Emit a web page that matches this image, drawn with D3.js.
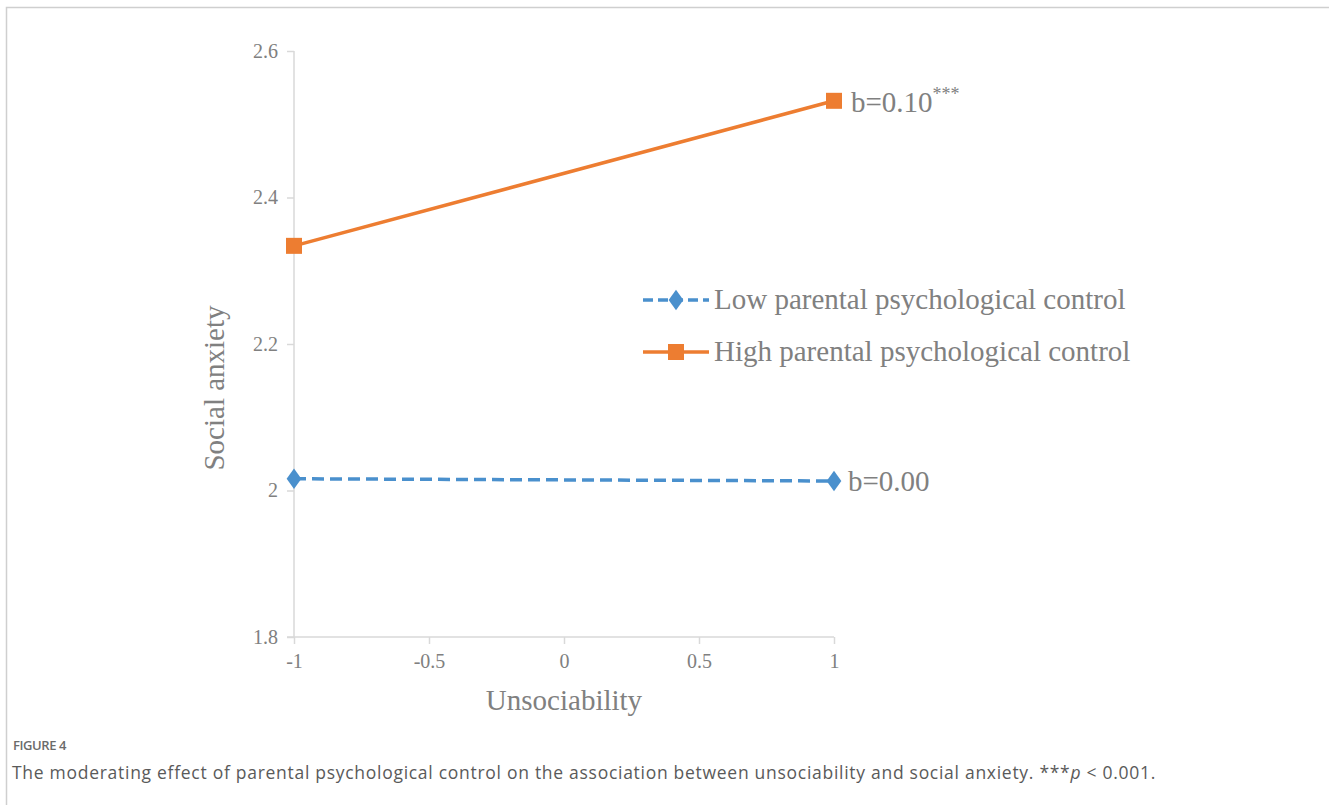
<!DOCTYPE html>
<html><head><meta charset="utf-8">
<script src="https://cdn.jsdelivr.net/npm/d3@7"></script>
<style>
html,body{margin:0;padding:0;background:#fff;}
svg{display:block;}
</style></head>
<body>
<svg id="chart" width="1329" height="805"></svg>
<script>
const xValues = [-1, 1];
const lowValues = [2.016, 2.013];
const highValues = [2.334, 2.532];
const seriesNames = ["Low parental psychological control", "High parental psychological control"];
const slopeLabels = ["b=0.00", "b=0.10"];
const xTicks = [-1, -0.5, 0, 0.5, 1];
const yTicks = [1.8, 2.0, 2.2, 2.4, 2.6];
const xTitle = "Unsociability";
const yTitle = "Social anxiety";
const figLabel = "FIGURE 4";
const caption = "The moderating effect of parental psychological control on the association between unsociability and social anxiety. ***";

const svg = d3.select("#chart");
const serif = "'Liberation Serif','Times New Roman',serif";
const textGray = "#808080";
const axisGray = "#d9d9d9";
const blue = "#4a90cd";
const orange = "#ed7d31";
const big = 29;

// frame
svg.append("path").attr("d","M6.5,805 L6.5,7.5 L1329,7.5").attr("fill","none").attr("stroke","#cfcfcf").attr("stroke-width",1.5);

const x = d3.scaleLinear().domain([-1,1]).range([294,834]);
const y = d3.scaleLinear().domain([1.8,2.6]).range([637,51]);

const yAxis = svg.append("g").attr("transform","translate(294,0)")
  .call(d3.axisLeft(y).tickValues(yTicks).tickSize(7).tickPadding(9).tickFormat(d => String(+d.toFixed(1))));
const xAxis = svg.append("g").attr("transform","translate(0,637)")
  .call(d3.axisBottom(x).tickValues(xTicks).tickSize(7).tickPadding(10).tickFormat(d => String(d)));
[yAxis,xAxis].forEach(g=>{
  g.select(".domain").attr("stroke",axisGray).attr("stroke-width",1.5);
  g.selectAll(".tick line").attr("stroke",axisGray).attr("stroke-width",1.5);
  g.selectAll(".tick text").attr("fill",textGray).attr("font-family",serif).attr("font-size",20);
});
yAxis.select(".domain").attr("d","M0,51V637");
xAxis.select(".domain").attr("d","M287,0H834");

// titles
svg.append("text").attr("x",(294+834)/2).attr("y",710).attr("text-anchor","middle")
  .attr("font-family",serif).attr("font-size",big).attr("fill",textGray).text(xTitle);
svg.append("text").attr("transform","translate(224,388) rotate(-90)").attr("text-anchor","middle")
  .attr("font-family",serif).attr("font-size",big).attr("fill",textGray).text(yTitle);

const line = d3.line().x((d,i)=>x(xValues[i])).y(d=>y(d));

// low series
svg.append("path").datum(lowValues).attr("d",line).attr("fill","none").attr("stroke",blue)
  .attr("stroke-width",3.5).attr("stroke-dasharray","12,6");
const diamond = d3.symbol().type(d3.symbolDiamond).size(120);
svg.selectAll(".lowpt").data(lowValues).join("path").attr("class","lowpt")
  .attr("transform",(d,i)=>`translate(${x(xValues[i])},${y(d)}) scale(1.25,1)`).attr("d",diamond).attr("fill",blue);

// high series
svg.append("path").datum(highValues).attr("d",line).attr("fill","none").attr("stroke",orange).attr("stroke-width",3.5);
svg.selectAll(".highpt").data(highValues).join("rect").attr("class","highpt")
  .attr("x",(d,i)=>x(xValues[i])-8).attr("y",d=>y(d)-8).attr("width",16).attr("height",16).attr("fill",orange);

// slope labels
svg.append("text").attr("x",x(1)+14).attr("y",y(lowValues[1])+10).attr("font-family",serif).attr("font-size",big)
  .attr("fill",textGray).text(slopeLabels[0]);
const t2 = svg.append("text").attr("x",x(1)+17).attr("y",y(highValues[1])+11).attr("font-family",serif).attr("font-size",big)
  .attr("fill",textGray);
t2.append("tspan").text(slopeLabels[1]);
t2.append("tspan").attr("dy",-12).attr("font-size",18).text("***");

// legend
const legY = [300, 352];
const lg = svg.append("g");
lg.append("line").attr("x1",643).attr("x2",709).attr("y1",legY[0]).attr("y2",legY[0]).attr("stroke",blue)
  .attr("stroke-width",3.5).attr("stroke-dasharray","10,5");
lg.append("path").attr("transform",`translate(676,${legY[0]}) scale(1.25,1)`).attr("d",diamond).attr("fill",blue);
lg.append("line").attr("x1",643).attr("x2",709).attr("y1",legY[1]).attr("y2",legY[1]).attr("stroke",orange).attr("stroke-width",3.5);
lg.append("rect").attr("x",668).attr("y",legY[1]-8).attr("width",16).attr("height",16).attr("fill",orange);
seriesNames.forEach((n,i)=>{
  lg.append("text").attr("x",714).attr("y",legY[i]+9).attr("font-family",serif).attr("font-size",big)
    .attr("fill",textGray).text(n);
});

// caption
const fl = svg.append("text").attr("x",13).attr("y",750).attr("font-family","'Open Sans',sans-serif").attr("font-size",13)
  .attr("font-weight",600).attr("fill","#6b6b6b").text(figLabel);
const cap = svg.append("text").attr("x",12).attr("y",779).attr("font-family","'Open Sans',sans-serif").attr("font-size",17.5)
  .attr("fill","#5a5a5a");
cap.append("tspan").text(caption);
cap.append("tspan").attr("font-style","italic").text("p");
cap.append("tspan").text(" < 0.001.");
function fit(sel, target){
  const n = sel.text().length;
  const w = sel.node().getComputedTextLength();
  sel.attr("letter-spacing", ((target - w)/n).toFixed(3));
}
fit(fl, 53);
fit(cap, 1144);
</script>
</body></html>
